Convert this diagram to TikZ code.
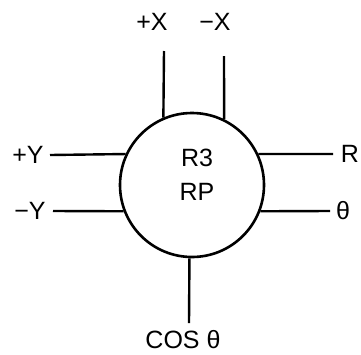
\documentclass[tikz,border=0pt]{standalone}
\usepackage{fontspec}
\setmainfont{Liberation Sans}
\usepackage{tikz}
\newcommand{\lettering}{\fontsize{25}{34}\selectfont}

\begin{document}
\begin{tikzpicture}[x=1pt,y=-1pt]
		\tikzset{lbl/.style={font=\lettering,inner sep=0pt},wire/.style={line width=2.4pt}};
		\useasboundingbox (0,0) rectangle (361,354);
		\node[circle,draw,line width=2.6pt,minimum size=144pt,inner sep=0pt] (rp) at (192,185) {};
		\node[lbl,align=center] (name) at (197,175) {R3\\RP};
		% inputs at the top
		\node[lbl] (px) at (152,22) {+X};
		\node[lbl] (mx) at (215,22) {−X};
		\coordinate (pxend) at (164,51);
		\coordinate (mxend) at (224,56);
		\draw[wire] (pxend) -- (rp.113);
		\draw[wire] (mxend) -- (rp.64);
		% inputs on the left
		\node[lbl] (py) at (28,155) {+Y};
		\node[lbl] (my) at (30,211) {−Y};
		\coordinate (pyend) at (50,155);
		\coordinate (myend) at (53,211);
		\draw[wire] (pyend) -- (rp.155);
		\draw[wire] (myend) -- (rp.201);
		% outputs
		\node[lbl] (r) at (350,154) {R};
		\node[lbl] (th) at (343,211) {θ};
		\node[lbl] (cos) at (183,340) {COS θ};
		\coordinate (rend) at (333,154);
		\coordinate (thend) at (330,211);
		\coordinate (cosend) at (189,323);
		\draw[wire] (rp.25) -- (rend);
		\draw[wire] (rp.-21) -- (thend);
		\draw[wire] (rp.268) -- (cosend);
	\end{tikzpicture}
\end{document}
